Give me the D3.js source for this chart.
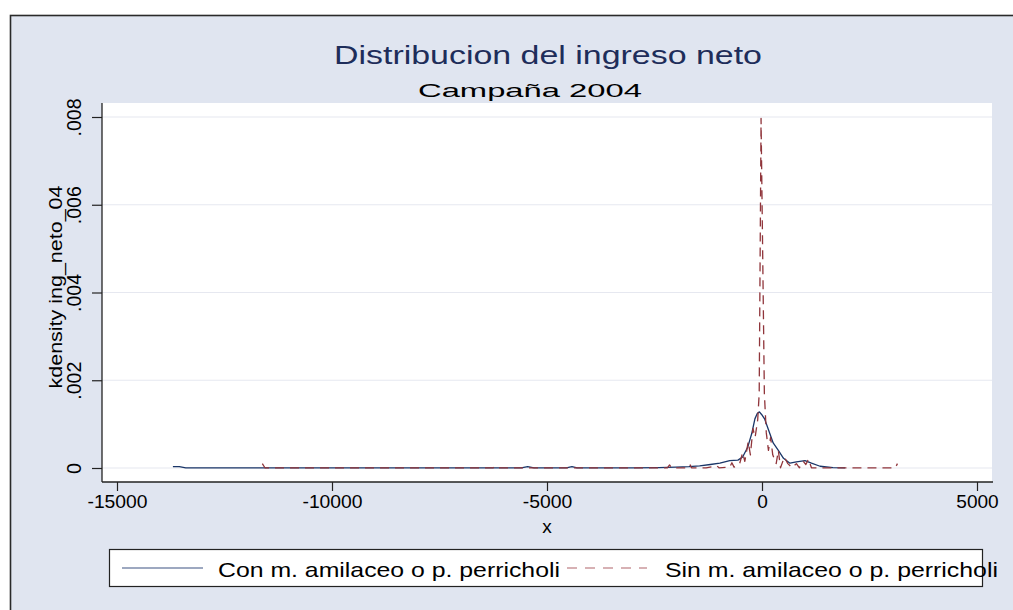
<!DOCTYPE html>
<html>
<head>
<meta charset="utf-8">
<script src="https://cdn.jsdelivr.net/npm/d3@7"></script>
<style>
  html, body { margin: 0; padding: 0; background: #ffffff; }
  svg { display: block; }
  text { font-family: "Liberation Sans", Arial, Helvetica, sans-serif; }
</style>
</head>
<body>
<svg id="chart" width="1013" height="610"></svg>
<script>
// Kernel density estimates of net income, 2004 campaign
// Series 1: producers with m. amilaceo or p. perricholi
const conX = [-13700, -13550, -13400, -12000, -10000, -8000, -6000, -5600, -5450, -5300,
  -4550, -4420, -4300, -3000, -2400, -2000, -1700, -1450, -1200, -980, -750, -560, -450,
  -330, -240, -165, -110, -60, -10, 60, 140, 260, 380, 500, 650, 800, 1000, 1150, 1350,
  1650, 1930];
const conD = [0.00003, 0.00003, 0.000005, 0.000005, 0.000005, 0.000005, 0.000005, 0.000005,
  0.00003, 0.000005, 0.000005, 0.00003, 0.000005, 0.000005, 0.00001, 0.00002, 0.00003,
  0.00005, 0.00008, 0.00011, 0.00017, 0.00018, 0.00025, 0.00048, 0.00078, 0.00112, 0.00124,
  0.00128, 0.00122, 0.00112, 0.00090, 0.00057, 0.00040, 0.00022, 0.00011, 0.00014, 0.00017,
  0.00011, 0.00004, 0.00001, 0.000005];

// Series 2: producers without m. amilaceo or p. perricholi
const sinX = [-11620, -11560, -9000, -6250, -6200, -6150, -2200, -2150, -2100, -1700, -1670,
  -1640, -1300, -1050, -1000, -750, -700, -650, -520, -450, -400, -320, -270, -210, -160,
  -100, -65, -22, 55, 100, 150, 200, 250, 330, 380, 430, 520, 600, 700, 800, 870, 960,
  1020, 1080, 1150, 1500, 2500, 3100, 3150];
const sinD = [0.0001, 0.000005, 0.000005, 0.000005, 0.00004, 0.000005, 0.000005, 0.00007,
  0.000005, 0.000005, 0.00007, 0.000005, 0.000005, 0.00005, 0.000005, 0.00002, 0.00012,
  0.00002, 0.0001, 0.00035, 0.00015, 0.0006, 0.0003, 0.0009, 0.0007, 0.0011, 0.0017,
  0.00797, 0.0017, 0.0008, 0.0004, 0.0007, 0.0003, 0.0001, 0.0004, 0.000005, 0.00025,
  0.0001, 0.000005, 0.0001, 0.000005, 0.00015, 0.00008, 0.0002, 0.000005, 0.000005,
  0.000005, 0.000005, 0.0001];

const xTicks = [-15000, -10000, -5000, 0, 5000];
const xTickLabels = ["-15000", "-10000", "-5000", "0", "5000"];
const yTicks = [0, 0.002, 0.004, 0.006, 0.008];
const yTickLabels = ["0", ".002", ".004", ".006", ".008"];
const seriesNames = ["Con m. amilaceo o p. perricholi", "Sin m. amilaceo o p. perricholi"];
const titleText = "Distribucion del ingreso neto";
const subtitleText = "Campaña 2004";
const yTitleText = "kdensity ing_neto_04";
const xTitleText = "x";

const svg = d3.select("#chart");
const W = 1013, H = 610;
const plot = { left: 102, right: 992, top: 103, bottom: 482 };

const x = d3.scaleLinear().domain([-15000, 5000]).range([117, 977]);
const y = d3.scaleLinear().domain([0, 0.008]).range([468, 117]);

const navy = "#1a3668";
const maroon = "#90353b";

// the text face is drawn wide, so each string is fitted to its own width
function wide(sel, len) {
  return sel.attr("textLength", len).attr("lengthAdjust", "spacingAndGlyphs");
}

// graph region
svg.append("rect").attr("x", 0).attr("y", 0).attr("width", W).attr("height", H).attr("fill", "#ffffff");
svg.append("rect").attr("x", 10.5).attr("y", 15.5).attr("width", W + 10).attr("height", H + 10)
  .attr("fill", "#e0e5f0").attr("stroke", "#2a2a2a").attr("stroke-width", 1.6);

// plot region
svg.append("rect").attr("x", plot.left).attr("y", plot.top)
  .attr("width", plot.right - plot.left).attr("height", plot.bottom - plot.top)
  .attr("fill", "#ffffff");

// grid lines
svg.append("g").selectAll("line").data(yTicks).join("line")
  .attr("x1", plot.left).attr("x2", plot.right)
  .attr("y1", d => y(d)).attr("y2", d => y(d))
  .attr("stroke", "#e6e8f0").attr("stroke-width", 1.2);

// titles
wide(svg.append("text").attr("x", 548).attr("y", 64).attr("text-anchor", "middle")
  .attr("font-size", 25).attr("fill", "#1e2d5a").text(titleText), 428);
wide(svg.append("text").attr("x", 530).attr("y", 97).attr("text-anchor", "middle")
  .attr("font-size", 19).attr("fill", "#000").text(subtitleText), 224);

// density curves
const line = d3.line().x(d => x(d[0])).y(d => y(d[1]));
const plotG = svg.append("g");
plotG.append("path").datum(d3.zip(conX, conD)).attr("d", line)
  .attr("fill", "none").attr("stroke", navy).attr("stroke-width", 1.3)
  .attr("stroke-linejoin", "round");
plotG.append("path").datum(d3.zip(sinX, sinD)).attr("d", line)
  .attr("fill", "none").attr("stroke", maroon).attr("stroke-width", 1.3)
  .attr("stroke-dasharray", "9,6").attr("stroke-linejoin", "round");

// axes
const yAxis = d3.axisLeft(y).tickValues(yTicks).tickSize(10)
  .tickFormat((d, i) => yTickLabels[i]);
const gy = svg.append("g").attr("transform", `translate(${plot.left},0)`).call(yAxis);
gy.select(".domain").attr("d", `M0,${plot.top}V${plot.bottom}`).attr("stroke", "#222").attr("stroke-width", 1.3);
gy.selectAll(".tick line").attr("stroke", "#222").attr("stroke-width", 1.2);
gy.selectAll(".tick text")
  .attr("x", null).attr("dy", null)
  .attr("font-size", 20).attr("fill", "#000")
  .attr("text-anchor", "middle")
  .attr("transform", "translate(-21,0) rotate(-90)")
  .each(function(d, i) {
    if (i > 0) wide(d3.select(this), 38);
  });

const xAxis = d3.axisBottom(x).tickValues(xTicks).tickSize(9)
  .tickFormat((d, i) => xTickLabels[i]);
const gx = svg.append("g").attr("transform", `translate(0,${plot.bottom})`).call(xAxis);
gx.select(".domain").attr("d", `M${plot.left},0H${plot.right + 1}`).attr("stroke", "#222").attr("stroke-width", 1.3);
gx.selectAll(".tick line").attr("stroke", "#222").attr("stroke-width", 1.2);
gx.selectAll(".tick text").attr("y", 13).attr("dy", "0.71em")
  .attr("font-size", 18).attr("fill", "#000")
  .each(function(d, i) {
    const n = xTickLabels[i].length;
    wide(d3.select(this), n * 10.6 - (xTickLabels[i][0] === "-" ? 3.5 : 0));
  });

// axis titles
wide(svg.append("text").attr("transform", "translate(62,287) rotate(-90)")
  .attr("text-anchor", "middle").attr("font-size", 19).attr("fill", "#000").text(yTitleText), 203);
svg.append("text").attr("x", 547).attr("y", 533).attr("text-anchor", "middle")
  .attr("font-size", 19).attr("fill", "#000").text(xTitleText);

// legend
const lg = svg.append("g");
lg.append("rect").attr("x", 109.5).attr("y", 549.5).attr("width", 873).attr("height", 37)
  .attr("fill", "#ffffff").attr("stroke", "#222").attr("stroke-width", 1.2);
lg.append("line").attr("x1", 122).attr("x2", 203).attr("y1", 568).attr("y2", 568)
  .attr("stroke", "#3c5282").attr("stroke-width", 1.2);
wide(lg.append("text").attr("x", 218).attr("y", 577).attr("font-size", 21).attr("fill", "#000")
  .text(seriesNames[0]), 342);
lg.append("line").attr("x1", 567).attr("x2", 647).attr("y1", 568).attr("y2", 568)
  .attr("stroke", "#b0646a").attr("stroke-width", 1.2).attr("stroke-dasharray", "10,8");
wide(lg.append("text").attr("x", 665).attr("y", 577).attr("font-size", 21).attr("fill", "#000")
  .text(seriesNames[1]), 333);
</script>
</body>
</html>
